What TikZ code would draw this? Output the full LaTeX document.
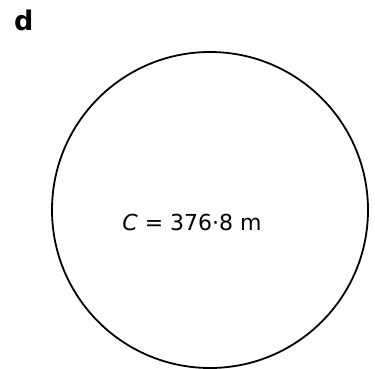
\documentclass[tikz,border=0pt]{standalone}
\usepackage{fontspec}
\setmainfont{DejaVu Sans}
\tikzset{
  partlabel/.style={font=\bfseries\fontsize{27}{30}\selectfont, inner sep=0pt},
  circlabel/.style={font=\fontsize{22}{26}\selectfont, inner sep=0pt}
}
\begin{document}
\begin{tikzpicture}[x=1pt,y=-1pt]
  \useasboundingbox (0,0) rectangle (375,369);
  % part letter
  \node[partlabel, anchor=north west] (part) at (14,10) {d};
  % the circle and its circumference
  \draw[line width=1.8pt] (210,210) circle (158);
  \node[circlabel] (circ) at (192,222) {\textit{C} = 376·8 m};
\end{tikzpicture}
\end{document}
